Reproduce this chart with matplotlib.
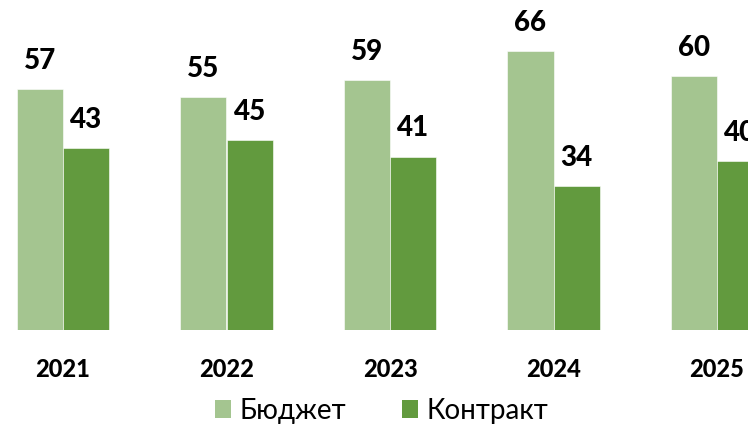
import numpy as np
import matplotlib
matplotlib.use("Agg")
import matplotlib.pyplot as plt
from matplotlib.patches import Patch

# data
years = ["2021", "2022", "2023", "2024", "2025"]
budget = [57, 55, 59, 66, 60]
contract = [43, 45, 41, 34, 40]

light = "#a4c590"
dark = "#629a3e"

fig = plt.figure(figsize=(7.48, 4.30), dpi=100)
ax = fig.add_axes([0, 100 / 430, 1, 330 / 430])

x = np.arange(len(years))
w = 0.284
b1 = ax.bar(x - w / 2, budget, w, color=light, edgecolor="white", linewidth=0.4)
b2 = ax.bar(x + w / 2, contract, w, color=dark, edgecolor="white", linewidth=0.4)

for bars in (b1, b2):
    for rect in bars:
        h = rect.get_height()
        ax.annotate(f"{h:.0f}", (rect.get_x() + rect.get_width() / 2, h),
                    xytext=(0, 14.5), textcoords="offset points",
                    ha="center", va="baseline", fontsize=20,
                    fontweight=900, family="Lato", color="black")

ax.set_xlim(-63 / 163.5, (748 - 63) / 163.5)
ax.set_ylim(0, 330 / 4.23)
ax.set_xticks(x)
ax.set_xticklabels(years, fontsize=17, fontweight=900, family="Lato")
ax.tick_params(axis="x", length=0, pad=20)
ax.set_yticks([])
for s in ax.spines.values():
    s.set_visible(False)

handles = [Patch(facecolor=light, label="Бюджет"),
           Patch(facecolor=dark, label="Контракт")]
fig.legend(handles=handles, loc="center", bbox_to_anchor=(0.51, 0.044),
           ncol=2, frameon=False, prop={"family": "Lato", "size": 20},
           handlelength=0.6, handleheight=0.6, handletextpad=0.3,
           columnspacing=2.0)

fig.savefig("out.png", dpi=100)
